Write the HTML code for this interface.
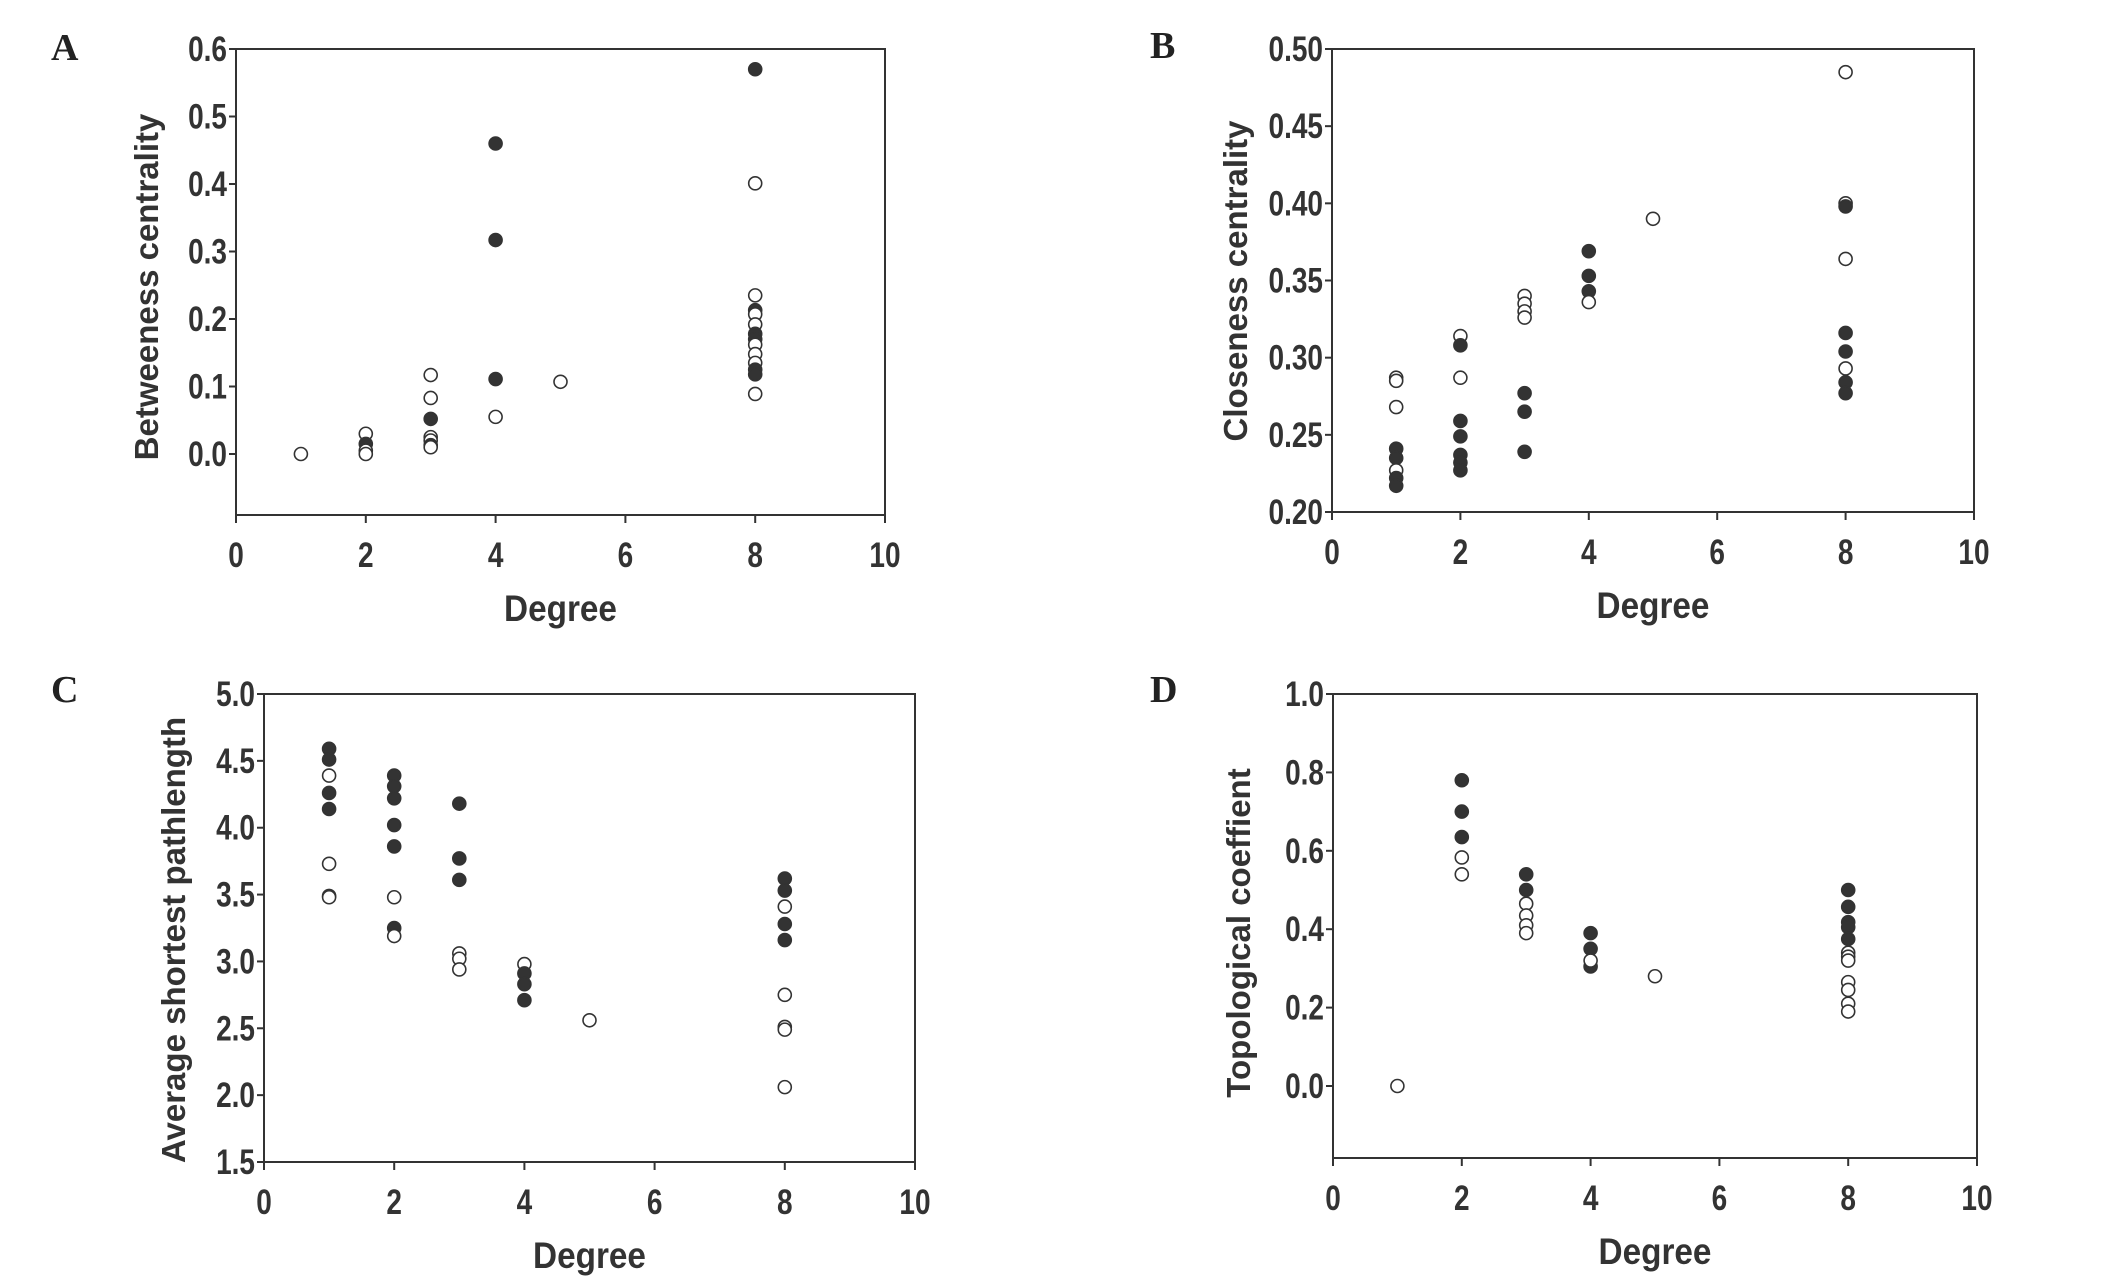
<!DOCTYPE html>
<html><head><meta charset="utf-8"><style>
html,body{margin:0;padding:0;background:#fff;}
svg{display:block;}
</style></head><body>
<svg id="fig" width="2126" height="1280" viewBox="0 0 2126 1280" xmlns="http://www.w3.org/2000/svg"></svg>
<script>
// Panel A data: [degree, value, filled(1)/open(0)]
const aX=[1,2,2,2,2,3,3,3,3,3,3,3,4,4,4,4,5,8,8,8,8,8,8,8,8,8,8,8,8,8,8];
const aY=[0,0.03,0.015,0.005,0,0.117,0.083,0.052,0.025,0.02,0.013,0.01,0.46,0.317,0.111,0.055,0.107,0.57,0.401,0.235,0.213,0.207,0.192,0.178,0.17,0.162,0.148,0.135,0.125,0.118,0.089];
const aF=[0,0,1,0,0,0,0,1,0,0,1,0,1,1,1,0,0,1,0,0,1,0,0,1,1,0,0,0,1,1,0];
const aTicks=["0.0","0.1","0.2","0.3","0.4","0.5","0.6"];
// Panel B
const bX=[1,1,1,1,1,1,1,1,2,2,2,2,2,2,2,2,3,3,3,3,3,3,3,4,4,4,4,5,8,8,8,8,8,8,8,8,8];
const bY=[0.287,0.285,0.268,0.241,0.235,0.227,0.222,0.217,0.314,0.308,0.287,0.259,0.249,0.237,0.232,0.227,0.340,0.335,0.330,0.326,0.277,0.265,0.239,0.369,0.353,0.343,0.336,0.390,0.485,0.400,0.398,0.364,0.316,0.304,0.293,0.284,0.277];
const bF=[0,0,0,1,1,0,1,1,0,1,0,1,1,1,1,1,0,0,0,0,1,1,1,1,1,1,0,0,0,0,1,0,1,1,0,1,1];
const bTicks=["0.20","0.25","0.30","0.35","0.40","0.45","0.50"];
// Panel C
const cX=[1,1,1,1,1,1,1,1,2,2,2,2,2,2,2,2,3,3,3,3,3,3,4,4,4,4,5,8,8,8,8,8,8,8,8,8];
const cY=[4.59,4.51,4.39,4.26,4.14,3.73,3.49,3.48,4.39,4.31,4.22,4.02,3.86,3.48,3.25,3.19,4.18,3.77,3.61,3.06,3.02,2.94,2.98,2.91,2.83,2.71,2.56,3.62,3.53,3.41,3.28,3.16,2.75,2.51,2.49,2.06];
const cF=[1,1,0,1,1,0,0,0,1,1,1,1,1,0,1,0,1,1,1,0,0,0,0,1,1,1,0,1,1,0,1,1,0,0,0,0];
const cTicks=["1.5","2.0","2.5","3.0","3.5","4.0","4.5","5.0"];
// Panel D
const dX=[1,2,2,2,2,2,3,3,3,3,3,3,4,4,4,4,5,8,8,8,8,8,8,8,8,8,8,8,8];
const dY=[0,0.78,0.70,0.635,0.583,0.54,0.54,0.50,0.465,0.435,0.41,0.39,0.39,0.35,0.305,0.32,0.28,0.50,0.457,0.418,0.405,0.375,0.34,0.33,0.32,0.265,0.245,0.21,0.19];
const dF=[0,1,1,1,0,0,1,1,0,0,0,0,1,1,1,0,0,1,1,1,1,1,0,0,0,0,0,0,0];
const dTicks=["0.0","0.2","0.4","0.6","0.8","1.0"];
const xTicks=["0","2","4","6","8","10"];

const NS="http://www.w3.org/2000/svg";
const svg=document.getElementById('fig');
function mk(tag,attrs,parent){const e=document.createElementNS(NS,tag);for(const k in attrs)e.setAttribute(k,attrs[k]);(parent||svg).appendChild(e);return e;}

function panel(cfg){
  const g=mk('g',{});
  
  
  const L=cfg.x0,R=cfg.x1,T=cfg.y0,B=cfg.y1;
  const sx=v=>L+(v-0)/(10-0)*(R-L);
  const sy=v=>cfg.yTopPx+(cfg.yTopVal-v)/(cfg.yTopVal-cfg.yRefVal)*(cfg.yRefPx-cfg.yTopPx);
  const lab=mk('text',{x:cfg.lx,y:cfg.ly,'font-family':'Liberation Serif, serif','font-weight':'bold','font-size':38,fill:'#222'},g);
  lab.textContent=cfg.id;
  
  
  const box=mk('rect',{x:L,y:T,width:R-L,height:B-T,fill:'none',stroke:'#333','stroke-width':2},g);
  
  
  xTicks.forEach(t=>{
    const v=parseFloat(t),x=sx(v);
    mk('line',{x1:x,y1:B,x2:x,y2:B+8,stroke:'#333','stroke-width':2},g);
    const tx=mk('text',{transform:`translate(${x},${B+52}) scale(0.8,1)`,'text-anchor':'middle','font-family':'Liberation Sans, sans-serif','font-weight':'bold','font-size':35,fill:'#333'},g);
    tx.textContent=t;
    
    
  });
  cfg.ticks.forEach(t=>{
    const v=parseFloat(t),y=sy(v);
    mk('line',{x1:L-7,y1:y,x2:L,y2:y,stroke:'#333','stroke-width':2},g);
    const ty=mk('text',{transform:`translate(${L-9},${y+12}) scale(0.8,1)`,'text-anchor':'end','font-family':'Liberation Sans, sans-serif','font-weight':'bold','font-size':35,fill:'#333'},g);
    ty.textContent=t;
    
    
  });
  const xt=mk('text',{transform:`translate(${(L+R)/2},${B+106}) scale(0.9,1)`,'text-anchor':'middle','font-family':'Liberation Sans, sans-serif','font-weight':'bold','font-size':37,fill:'#333'},g);
  xt.textContent='Degree';
  
  
  const yt=mk('text',{transform:`translate(${cfg.ytx},${cfg.yty}) rotate(-90)`,'text-anchor':'middle','font-family':'Liberation Sans, sans-serif','font-weight':'bold','font-size':33,fill:'#333'},g);
  yt.textContent=cfg.ytitle;
  
  
  for(let i=0;i<cfg.xs.length;i++){
    const c=mk('circle',{cx:sx(cfg.xs[i]),cy:sy(cfg.ys[i]),r:6.5,fill:cfg.fs[i]?'#333':'#fff',stroke:'#333','stroke-width':1.6},g);
    
    
  }
}
panel({id:'A',x0:236,x1:885,y0:49,y1:515,yTopPx:49,yTopVal:0.6,yRefPx:454,yRefVal:0,ticks:aTicks,xs:aX,ys:aY,fs:aF,lx:51,ly:60,ytitle:'Betweeness centrality',ytx:158,yty:287});
panel({id:'B',x0:1332,x1:1974,y0:49,y1:512,yTopPx:49,yTopVal:0.5,yRefPx:512,yRefVal:0.2,ticks:bTicks,xs:bX,ys:bY,fs:bF,lx:1150,ly:58,ytitle:'Closeness centrality',ytx:1247,yty:281});
panel({id:'C',x0:264,x1:915,y0:694,y1:1162,yTopPx:694,yTopVal:5.0,yRefPx:1162,yRefVal:1.5,ticks:cTicks,xs:cX,ys:cY,fs:cF,lx:51,ly:702,ytitle:'Average shortest pathlength',ytx:185,yty:940});
panel({id:'D',x0:1333,x1:1977,y0:694,y1:1158,yTopPx:694,yTopVal:1.0,yRefPx:1086,yRefVal:0,ticks:dTicks,xs:dX,ys:dY,fs:dF,lx:1150,ly:702,ytitle:'Topological coeffient',ytx:1250,yty:933});
</script>
</body></html>
